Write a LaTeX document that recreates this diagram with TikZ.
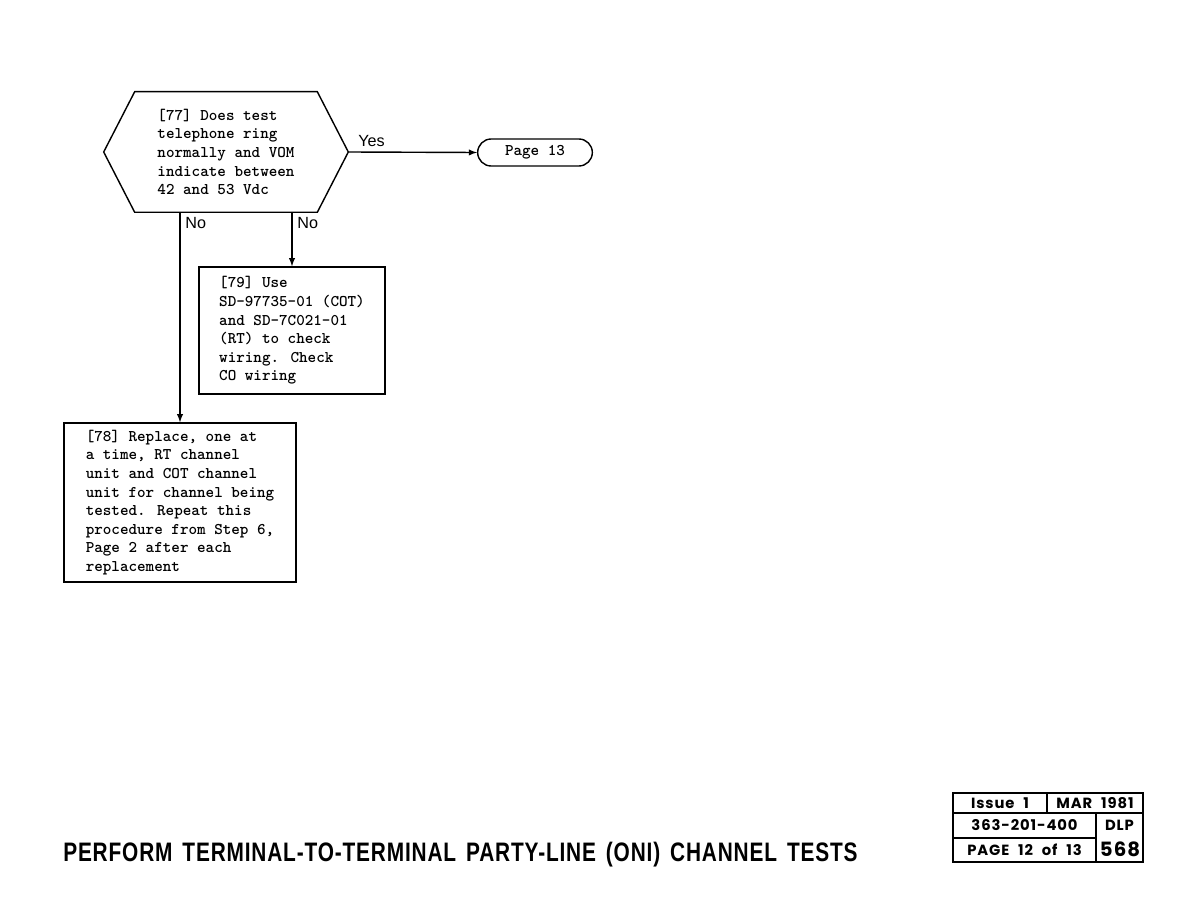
\documentclass[tikz,border=0pt]{standalone}
\usepackage{fontspec}
\setsansfont{Liberation Sans}
\newfontfamily\blockfont{Poppins}[LetterSpace=6,WordSpace=2.2]
\newfontfamily\titlefont{Liberation Sans}[LetterSpace=4,WordSpace=1.5]
\usetikzlibrary{positioning,shapes,arrows}
\newcommand{\flowfont}{\fontsize{11.6}{13.2}\selectfont\ttfamily\bfseries}

\begin{document}
\begin{tikzpicture}[x=0.025cm,y=-0.025cm,
	stepbox/.style={draw,line width=1pt,align=left,font=\flowfont},
	answer/.style={font=\sffamily\fontsize{11.5}{12}\selectfont},
	blocktext/.style={font=\blockfont\bfseries\fontsize{10.5}{12}\selectfont,inner sep=0pt}]
\useasboundingbox (0,0) rectangle (1188,918);

% decision 77
\node [align=left,font=\flowfont,minimum width=6.1cm,minimum height=3cm] (q77) at (226,152)
	{[77] Does test\\telephone ring\\normally and VOM\\indicate between\\42 and 53 Vdc};
\draw [line width=1pt] (q77.west) -- ([xshift=0.775cm]q77.north west) -- ([xshift=-0.775cm]q77.north east)
	-- (q77.east) -- ([xshift=-0.775cm]q77.south east) -- ([xshift=0.775cm]q77.south west) -- cycle;

\node [draw,line width=1pt,rounded rectangle,font=\flowfont,minimum width=3.1cm,minimum height=0.675cm] (p13) at (535,152.5) {Page 13};
\node [stepbox,minimum width=4.65cm,minimum height=3.175cm] (s79) at (292,330.5)
	{[79] Use\\SD-97735-01 (COT)\\and SD-7C021-01\\(RT) to check\\wiring. Check\\CO wiring};
\node [stepbox,minimum width=5.8cm,minimum height=3.975cm] (s78) at (180,502.5)
	{[78] Replace, one at\\a time, RT channel\\unit and COT channel\\unit for channel being\\tested. Repeat this\\procedure from Step 6,\\Page 2 after each\\replacement};

\path [line width=1pt] (q77.east) edge[-latex] node [pos=0.18, above, answer] {Yes} (p13.west)
(q77.south -| s78.north) edge[-latex] node [pos=0, below right, answer] {No} (s78.north)
(q77.south -| s79.north) edge[-latex] node [pos=0, below right, answer] {No} (s79.north);

% footer
\node [anchor=west,inner sep=0pt,font=\titlefont\bfseries\fontsize{19}{20}\selectfont] (title) at (63,855)
	{\resizebox{19.85cm}{\height}{PERFORM TERMINAL-TO-TERMINAL PARTY-LINE (ONI) CHANNEL TESTS}};

\draw [line width=1.2pt] (953,793) rectangle (1143,862);
\draw [line width=1.2pt] (953,813) -- (1143,813) (953,838) -- (1096,838)
	(1047,793) -- (1047,813) (1096,813) -- (1096,862);
\node [blocktext] (issue) at (1000,803.5) {Issue 1};
\node [blocktext] (date) at (1095,803.5) {MAR 1981};
\node [blocktext] (docno) at (1024.5,825) {363-201-400};
\node [blocktext] (page) at (1024.5,850) {PAGE 12 of 13};
\node [blocktext] (dlp) at (1119.5,825) {DLP};
\node [blocktext,font=\blockfont\bfseries\fontsize{14}{16}\selectfont] (num) at (1120,849) {568};
\end{tikzpicture}
\end{document}
